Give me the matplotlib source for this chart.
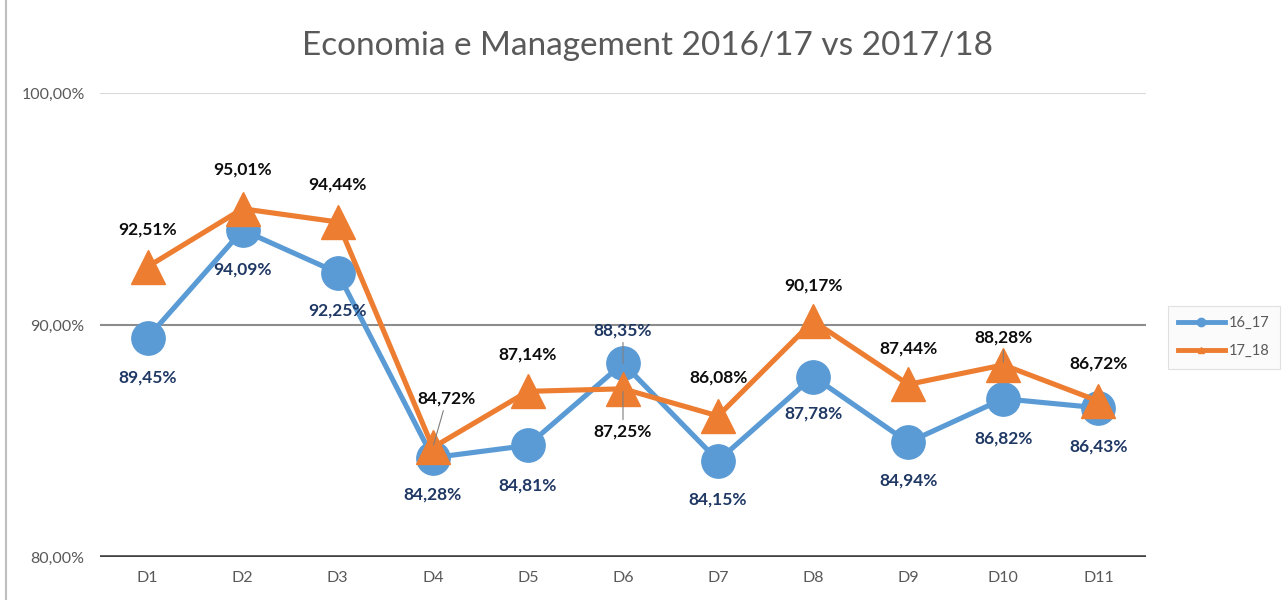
import matplotlib
matplotlib.use("Agg")
import matplotlib.pyplot as plt
from matplotlib.lines import Line2D

plt.rcParams['font.family'] = ['Lato', 'DejaVu Sans']

# data
categories = ["D1", "D2", "D3", "D4", "D5", "D6", "D7", "D8", "D9", "D10", "D11"]
values_16_17 = [89.45, 94.09, 92.25, 84.28, 84.81, 88.35, 84.15, 87.78, 84.94, 86.82, 86.43]
values_17_18 = [92.51, 95.01, 94.44, 84.72, 87.14, 87.25, 86.08, 90.17, 87.44, 88.28, 86.72]
series_names = ["16_17", "17_18"]
y_ticks = [80, 90, 100]

BLUE = '#5b9bd5'
ORANGE = '#ed7d31'
GREY_TEXT = '#595959'

# label placement, in pixels (positive = down)
off_16_17 = [40, 39, 38, 37, 40, -33, 39, 37, 38, 40, 39]
off_17_18 = [-37, -39, -37, -49, -37, 43, -38, -36, -36, -27, -38]
dx_17_18 = [0, 0, 0, 14, 0, 0, 0, 0, 0, 0, 0]
leader_16_17 = [5]
leader_17_18 = [3, 5, 9]

PX = 0.72  # points per pixel at 100 dpi


def fmt(v):
    return ("%.2f%%" % v).replace(".", ",")


fig = plt.figure(figsize=(12.88, 6), dpi=100)
ax = fig.add_axes([100 / 1288, 43 / 600, 1046 / 1288, 464 / 600])

x = list(range(len(categories)))

ax.axhline(100, color='#d9d9d9', lw=1.5, zorder=1)
ax.axhline(90, color='#8c8c8c', lw=1.5, zorder=1)
ax.axhline(80, color='#404040', lw=2.6, zorder=1)

ax.plot(x, values_16_17, color=BLUE, lw=3.7, marker='o', ms=24, mec=BLUE, zorder=3)
ax.plot(x, values_17_18, color=ORANGE, lw=3.7, marker='^', ms=24, mec=ORANGE, zorder=4)

for i, v in enumerate(values_16_17):
    arrow = None
    if i in leader_16_17:
        arrow = dict(arrowstyle='-', color='#7f7f7f', lw=0.8, shrinkA=1, shrinkB=0)
    ax.annotate(fmt(v), xy=(i, v), xytext=(0, -off_16_17[i] * PX), textcoords='offset points',
                ha='center', va='center', fontsize=12.5, fontweight='bold', color='#1f3864',
                arrowprops=arrow, zorder=6)

for i, v in enumerate(values_17_18):
    arrow = None
    if i in leader_17_18:
        arrow = dict(arrowstyle='-', color='#7f7f7f', lw=0.8, shrinkA=1, shrinkB=2)
    ax.annotate(fmt(v), xy=(i, v), xytext=(dx_17_18[i] * PX, -off_17_18[i] * PX), textcoords='offset points',
                ha='center', va='center', fontsize=12.5, fontweight='bold', color='#0d0d0d',
                arrowprops=arrow, zorder=6)

ax.set_xlim(-0.5, len(categories) - 0.5)
ax.set_ylim(80, 100)
ax.set_xticks(x)
ax.set_xticklabels(categories)
ax.set_yticks(y_ticks)
ax.set_yticklabels([fmt(t) for t in y_ticks])
ax.tick_params(length=0, labelsize=11.5, labelcolor=GREY_TEXT)
ax.tick_params(axis='y', pad=11)
ax.tick_params(axis='x', pad=10)
for s in ax.spines.values():
    s.set_visible(False)
ax.patch.set_alpha(0)

fig.text(648 / 1288, 1 - 46 / 600, "Economia e Management 2016/17 vs 2017/18",
         ha='center', va='center', fontsize=24, color=GREY_TEXT)

handles = [
    Line2D([], [], color=BLUE, lw=3.5, marker='o', ms=6),
    Line2D([], [], color=ORANGE, lw=3.5, marker='^', ms=5),
]
leg = fig.legend(handles, series_names, loc='center', bbox_to_anchor=(1224 / 1288, 1 - 337 / 600),
                 frameon=True, fancybox=False, edgecolor='#d9d9d9', facecolor='#fafafa',
                 fontsize=10.5, labelcolor=GREY_TEXT, handlelength=3.2, handletextpad=0.3,
                 borderpad=0.7, labelspacing=1.0)
leg.get_frame().set_linewidth(0.8)

fig.add_artist(Line2D([5.5 / 1288, 5.5 / 1288], [0, 1], color='#bfbfbf', lw=1.5,
                      transform=fig.transFigure))

fig.savefig("out.png", dpi=100)
